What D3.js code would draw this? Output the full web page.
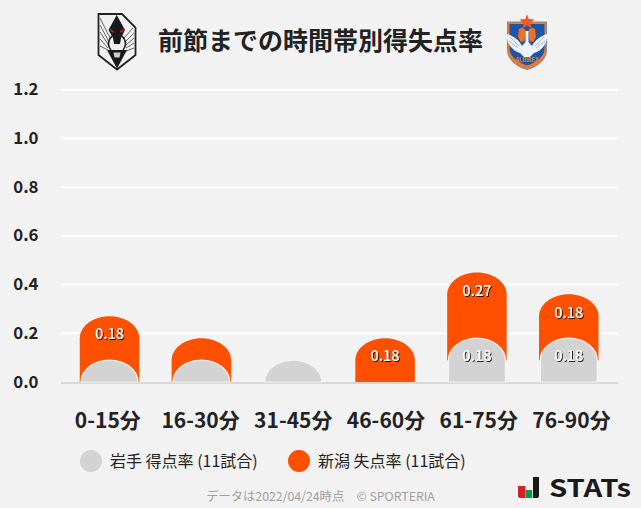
<!DOCTYPE html>
<html><head><meta charset="utf-8">
<script src="https://cdn.jsdelivr.net/npm/d3@7"></script>
<style>
html,body{margin:0;padding:0;background:#f2f2f2}
svg{display:block}
text{font-family:"Noto Sans CJK JP","Noto Sans",sans-serif}
</style></head><body>
<script>
const categories=["0-15分","16-30分","31-45分","46-60分","61-75分","76-90分"];
const scored=[0.09,0.09,0.09,0,0.18,0.18];
const conceded=[0.18,0.09,0,0.18,0.27,0.18];
const scoredLabels=["","","","","0.18","0.18"];
const concededLabels=["0.18","","","0.18","0.27","0.18"];
const yTicks=[0,0.2,0.4,0.6,0.8,1.0,1.2];
const title="前節までの時間帯別得失点率";
const legendNames=["岩手 得点率 (11試合)","新潟 失点率 (11試合)"];
const footer="データは2022/04/24時点　© SPORTERIA";

const W=641,H=508,GRAY="#d3d3d3",ORANGE="#ff5000",INK="#222";
const svg=d3.select("body").append("svg").attr("width",W).attr("height",H);
svg.append("rect").attr("width",W).attr("height",H).attr("fill","#f2f2f2");
const defs=svg.append("defs");
const f=defs.append("filter").attr("id","ts").attr("x","-20%").attr("y","-20%").attr("width","140%").attr("height","140%");
f.append("feDropShadow").attr("dx",1).attr("dy",1).attr("stdDeviation",0.4).attr("flood-color","#000").attr("flood-opacity",0.85);

const y=d3.scaleLinear().domain([0,1.2]).range([382,89.8]);
const x=d3.scaleBand().domain(categories).range([63.6,614.7]).paddingInner(0.36).paddingOuter(0.18);
const xLabel=d3.scaleBand().domain(categories).range([61.45,617.85]);
const cx=c=>x(c)+x.bandwidth()/2;

// grid
svg.append("g").selectAll("line").data(yTicks.filter(d=>d>0)).join("line")
  .attr("x1",61).attr("x2",618).attr("y1",d=>y(d)).attr("y2",d=>y(d))
  .attr("stroke","#fff").attr("stroke-width",2);
svg.append("line").attr("x1",61).attr("x2",618).attr("y1",383).attr("y2",383).attr("stroke","#d8d8d8").attr("stroke-width",2);

// y axis
const ay=d3.axisLeft(y).tickValues(yTicks).tickFormat(d3.format(".1f")).tickSize(0);
const gy=svg.append("g").attr("transform","translate(38.5,-1)").call(ay);
gy.select(".domain").remove();
gy.selectAll("text").attr("x",0).attr("dy","0.36em").attr("font-size",16.8).attr("font-weight",700).attr("fill",INK).attr("font-family",'"Noto Sans CJK JP"');

// x axis
const ax=d3.axisBottom(xLabel).tickSize(0);
const gx=svg.append("g").attr("transform","translate(0,420)").call(ax);
gx.select(".domain").remove();
gx.selectAll("text").attr("y",0).attr("dy","0.36em").attr("font-size",21).attr("font-weight",700).attr("fill",INK).attr("font-family",'"Noto Sans CJK JP"');

// rounded-top bar path
const RY=22;
function topBar(cxv,w,top,bottom){
  const l=cxv-w/2,r=cxv+w/2,rx=w/2;
  const ry=Math.min(RY,bottom-top);
  const p=d3.path();
  p.moveTo(l,bottom);p.lineTo(l,top+ry);
  p.bezierCurveTo(l,top+ry*0.45,cxv-rx*0.55,top,cxv,top);
  p.bezierCurveTo(cxv+rx*0.55,top,r,top+ry*0.45,r,top+ry);
  p.lineTo(r,bottom);p.closePath();
  return p.toString();
}
const rows=categories.map((c,i)=>({c,s:scored[i],o:conceded[i],sl:scoredLabels[i],ol:concededLabels[i]}));
const oW=59.5,gW=57;
// conceded: sits on the scored stack and tucks under its rounded cap
svg.append("g").selectAll("path").data(rows.filter(d=>d.o>0)).join("path")
  .attr("d",d=>topBar(cx(d.c),oW,y(d.s+d.o),Math.min(y(0),y(d.s)+RY)))
  .attr("fill",ORANGE);
// scored
svg.append("g").selectAll("path").data(rows.filter(d=>d.s>0)).join("path")
  .attr("d",d=>topBar(cx(d.c),gW,y(d.s),y(0)))
  .attr("fill",GRAY).attr("stroke","#f4f4f4").attr("stroke-width",1.2);

// value labels
const lab=svg.append("g").attr("font-size",14.5).attr("font-weight",500).attr("fill","#fff").attr("text-anchor","middle").attr("filter","url(#ts)");
lab.selectAll("text.o").data(rows.filter(d=>d.ol)).join("text").attr("class","o")
  .attr("x",d=>cx(d.c)).attr("y",d=>y(d.s+d.o)+18).attr("dy","0.36em").text(d=>d.ol);
lab.selectAll("text.s").data(rows.filter(d=>d.sl)).join("text").attr("class","s")
  .attr("x",d=>cx(d.c)).attr("y",d=>y(d.s)+18).attr("dy","0.36em").text(d=>d.sl);

// title
svg.append("text").attr("x",320.5).attr("y",41).attr("dy","0.36em").attr("text-anchor","middle")
  .attr("font-size",25).attr("font-weight",700).attr("fill",INK).text(title);

// legend
const lg=svg.append("g").selectAll("g").data(legendNames).join("g")
  .attr("transform",(d,i)=>`translate(${[91,299][i]},461)`);
lg.append("circle").attr("r",11).attr("fill",(d,i)=>[GRAY,ORANGE][i]);
lg.append("text").attr("x",19).attr("dy","0.36em").attr("font-size",16).attr("fill",INK).attr("font-weight",400).text(d=>d);

// footer
svg.append("text").attr("x",320.5).attr("y",497).attr("dy","0.36em").attr("text-anchor","middle")
  .attr("font-size",12.3).attr("fill","#a0a0a0").text(footer);

// Iwate emblem
const iw=svg.append("g");
iw.append("path").attr("d","M98.5,14H122L135.5,27.5V55L117,69.5L98.5,55Z").attr("fill","#f0f0f0").attr("stroke","#222").attr("stroke-width",1.8);
const stripe=iw.append("g").attr("stroke","#555").attr("stroke-width",0.9).attr("fill","none");
[[100,18,110,38],[100,25,109,42],[100,32,109,46],[100,39,108,48],[100,46,108,50],[133,28,124,38],[134,33,125,42],[134,38,125,46],[134,43,126,48],[134,48,126,51]]
  .forEach(s=>stripe.append("line").attr("x1",s[0]).attr("y1",s[1]).attr("x2",s[2]).attr("y2",s[3]));
iw.append("path").attr("d","M116.7,15L125,30L121,38L120,44H114L113,38L108.5,30Z").attr("fill","#181818");
iw.append("path").attr("d","M109.5,29L114,31.5L112.5,32.5ZM124.5,29L120,31.5L121.5,32.5Z").attr("fill","#c02020").attr("stroke","#c02020").attr("stroke-width",0.8);
iw.append("path").attr("d","M112,36C107,41 108,47 111,50M122,36C127,41 126,47 123,50").attr("fill","none").attr("stroke","#222").attr("stroke-width",1.6);
iw.append("path").attr("d","M107,50H127L117,68.5Z").attr("fill","#181818");
iw.append("path").attr("d","M113.5,52.5H120.5L119.5,57.5H114.5Z").attr("fill","#ccc");

// Niigata emblem
const ni=svg.append("g");
ni.append("path").attr("d","M507.5,22H546.5V50C546.5,60 536,67 527,69.5C518,67 507.5,60 507.5,50Z").attr("fill","#ef7a2a").attr("stroke","#8a8a8a").attr("stroke-width",1.1);
ni.append("path").attr("d","M509.5,24H544.5V49C544.5,57 535,63 527,65.5C519,63 509.5,57 509.5,49Z").attr("fill","#1d56a5");
ni.append("path").attr("d","M527,14L528.6,19L534.5,19.5L530.2,23.4L531.8,28.5L527,25.6L522.2,28.5L523.8,23.4L519.5,19.5L525.4,19Z").attr("fill","#ee5a20");
ni.append("path").attr("d","M519,29C522,27 525,28 525.5,31L524.5,41L521,42L518,37ZM535,29C532,27 529,28 528.5,31L529.5,41L533,42L536,37Z").attr("fill","#f0701f");
ni.append("path").attr("d","M507,34C513,36 519,40 522,46L525.5,42V31H528.5V42L532,46C535,40 541,36 547,34C548,44 541,51 534,53L530,57H524L520,53C513,51 506,44 507,34Z").attr("fill","#eef2fa");
const ws=ni.append("g").attr("stroke","#7f9fd4").attr("stroke-width",0.7);
[[510,37,519,46],[509,41,518,48],[544,37,535,46],[545,41,536,48]].forEach(s=>ws.append("line").attr("x1",s[0]).attr("y1",s[1]).attr("x2",s[2]).attr("y2",s[3]));
ni.append("text").attr("x",527).attr("y",62).attr("text-anchor","middle").attr("font-size",5.5).attr("font-weight",700).attr("fill","#ef7a2a").text("ALBIREX");

// STATs logo
const st=svg.append("g");
st.append("path").attr("d","M518,486H525.5V498H520Q518,498 518,496Z").attr("fill","#d81f26");
st.append("rect").attr("x",525.7).attr("y",490).attr("width",6.5).attr("height",8).attr("fill","#0a9a4a");
st.append("path").attr("d","M533,477H539V496Q539,498 537,498H533Z").attr("fill","#1a1a1a");
st.append("text").attr("x",549).attr("y",497).attr("font-family","DejaVu Sans").attr("font-weight",700).attr("font-size",24.5)
  .attr("textLength",82).attr("lengthAdjust","spacingAndGlyphs").attr("fill","#1a1a1a").text("STATs");
</script>
</body></html>
